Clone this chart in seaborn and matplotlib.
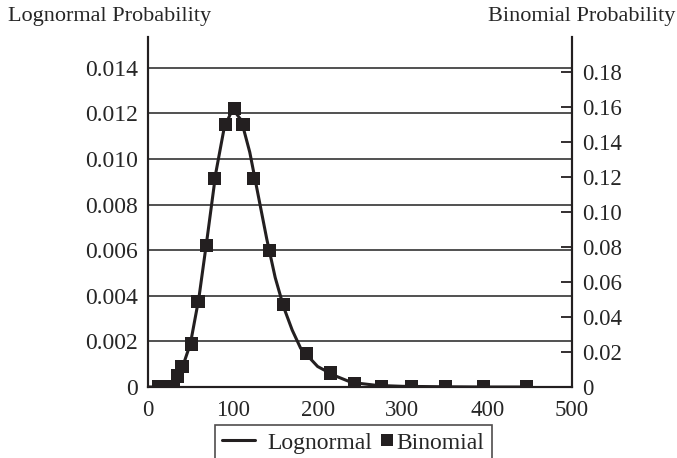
import matplotlib
matplotlib.use('Agg')
import matplotlib.pyplot as plt
from matplotlib.lines import Line2D
from matplotlib.patches import Rectangle
import seaborn as sns
import pandas as pd

# Set seaborn style, then the serif font
sns.set_style('white')
plt.rcParams['font.family'] = ['Liberation Serif', 'DejaVu Serif']
plt.rcParams['font.size'] = 16

ink = '#231f20'

# Lognormal density curve (left axis)
logn_x = [0, 20, 30, 35, 40, 50, 60, 70, 80, 90, 100, 110, 120, 130, 140,
          150, 160, 170, 180, 200, 220, 240, 270, 300, 350, 400, 450]
logn_y = [0, 0, 0.0002, 0.0005, 0.0008, 0.0019, 0.0039, 0.0066, 0.0094,
          0.0114, 0.0122, 0.0117, 0.0103, 0.0084, 0.0065, 0.0048, 0.0035,
          0.0025, 0.0017, 0.0009, 0.0005, 0.0002, 0.00007, 0.00003,
          0.00001, 0, 0]

# Binomial probabilities (right axis)
binom_x = [13, 19, 24, 30, 35, 40, 51, 59, 69, 78, 91, 102, 112, 124, 143,
           160, 187, 215, 243, 275, 311, 351, 396, 446]
binom_y = [0, 0, 0, 0.0005, 0.0063, 0.0115, 0.0246, 0.049, 0.081, 0.119,
           0.150, 0.159, 0.150, 0.119, 0.078, 0.047, 0.019, 0.008, 0.0017,
           0.0003, 0, 0, 0, 0]

left_ticks = [0, 0.002, 0.004, 0.006, 0.008, 0.010, 0.012, 0.014]
left_labels = ['0', '0.002', '0.004', '0.006', '0.008', '0.010', '0.012', '0.014']
right_ticks = [0, 0.02, 0.04, 0.06, 0.08, 0.10, 0.12, 0.14, 0.16, 0.18]
right_labels = ['0', '0.02', '0.04', '0.06', '0.08', '0.10', '0.12', '0.14', '0.16', '0.18']
x_ticks = [0, 100, 200, 300, 400, 500]

logn = pd.DataFrame({'x': logn_x, 'y': logn_y})
binom = pd.DataFrame({'x': binom_x, 'y': binom_y})


# legend square sits at the right end of its handle box, close to the text
class SquareHandler:
    def legend_artist(self, legend, orig_handle, fontsize, handlebox):
        x0, y0 = handlebox.xdescent, handlebox.ydescent
        w, h = handlebox.width, handlebox.height
        size = 8.6
        right = x0 + w + 5.8
        patch = Rectangle((right - size, y0 + h / 2 - size / 2), size, size,
                          facecolor=ink, edgecolor='none',
                          transform=handlebox.get_transform())
        handlebox.add_artist(patch)
        return patch


fig = plt.figure(figsize=(6.77, 4.58), dpi=100)
ax = fig.add_axes([0.2186, 0.155, 0.6264, 0.764])
ax2 = ax.twinx()

sns.lineplot(data=logn, x='x', y='y', ax=ax, color=ink, linewidth=2.2, legend=False)
sns.scatterplot(data=binom, x='x', y='y', ax=ax2, color=ink, marker='s', s=90,
                edgecolor='none', legend=False, zorder=5)

ax.set_xlim(0, 500)
ax.set_ylim(0, 0.01535)
ax2.set_ylim(0, 0.2)

ax.set_xticks(x_ticks)
ax.set_xticklabels([str(t) for t in x_ticks])
ax.set_yticks(left_ticks)
ax.set_yticklabels(left_labels)
ax2.set_yticks(right_ticks)
ax2.set_yticklabels(right_labels)

ax.set_xlabel('')
ax.set_ylabel('')
ax2.set_ylabel('')

# horizontal grid from the left axis
ax.yaxis.grid(True, color='#333333', linewidth=1.2)
ax.xaxis.grid(False)
ax2.grid(False)

for a in (ax, ax2):
    a.spines['top'].set_visible(False)
    for s in ('left', 'right', 'bottom'):
        a.spines[s].set_color(ink)
        a.spines[s].set_linewidth(1.5)

ax.tick_params(axis='x', direction='in', length=8, width=1.3, color=ink, pad=9, labelsize=16.5)
ax.tick_params(axis='y', length=0, pad=7, labelsize=17)
ax2.tick_params(axis='y', direction='in', length=8, width=1.3, color=ink, pad=7, labelsize=16.5)

fig.text(0.012, 0.965, 'Lognormal Probability', ha='left', va='center', fontsize=16)
fig.text(0.997, 0.965, 'Binomial Probability', ha='right', va='center', fontsize=16)

# legend: line for the curve, square for the binomial points
line_handle = Line2D([], [], color=ink, linewidth=2.2)
square_handle = Rectangle((0, 0), 1, 1, color=ink)
leg = fig.legend([line_handle, square_handle], ['Lognormal', 'Binomial'],
                 handler_map={Rectangle: SquareHandler()},
                 loc='upper center', bbox_to_anchor=(0.522, 0.072), borderaxespad=0,
                 ncol=2, frameon=True, fancybox=False, edgecolor=ink, fontsize=17,
                 handlelength=1.4, handletextpad=0.5, columnspacing=-0.85, borderpad=0.3)
leg.get_frame().set_linewidth(1.2)

fig.savefig('out.png', dpi=100)
